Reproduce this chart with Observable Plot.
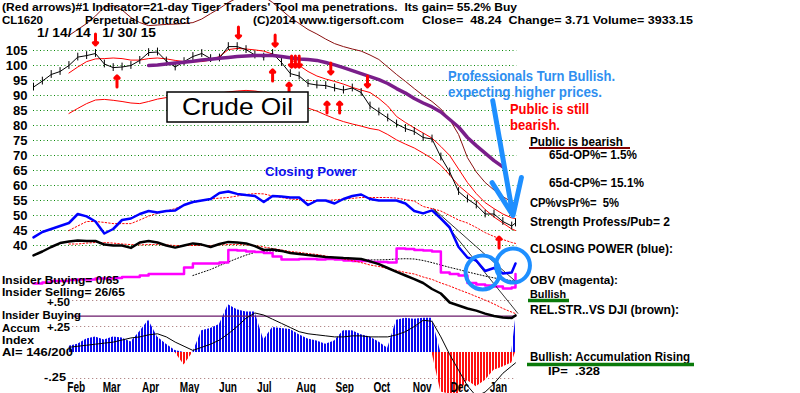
<!DOCTYPE html>
<html><head><meta charset="utf-8">
<script src="https://cdn.jsdelivr.net/npm/d3@7"></script>
<script src="https://cdn.jsdelivr.net/npm/@observablehq/plot@0.6"></script>
<style>
body{margin:0;background:#fff;}
#wrap{position:relative;width:800px;height:393px;overflow:hidden;background:#fff;}
#wrap svg{position:absolute;left:0;top:0;}
</style></head><body><div id="wrap"></div>
<script>
const D = s => new Date(s + "T00:00:00");
// weekly sample dates (Jan 14 2014 .. Jan 27 2015) plus last bar Jan 30 2015
const dates = [...d3.range(55).map(i => d3.timeWeek.offset(D("2014-01-14"), i)), D("2015-01-30")];

const price = [92.8,94.8,97,98,100,102.8,103.3,104,100.5,99.3,
 99.5,100,101.7,104.3,104.5,101.5,99.5,101.3,103,104,
 102.3,102.5,106.3,106.3,105.3,103.5,102.8,104,101,97.3,
 96.5,94,93.5,93.3,92.5,91.8,92.5,91,86.5,84.5,
 82.5,80.5,79,78,76,75.5,69.5,64.5,58,55.5,
 53.5,50.5,50.5,48,46.5,47.5];
const upperBand = [null,null,null,null,110,112,114,116.5,119.5,120,
 118.5,116,114.3,113.3,113.5,113.7,113.8,114,114.3,115.5,
 117.3,119,121,122.5,123.5,124,123,121,118.5,116,
 114,112,110.5,108.8,107.3,106.3,105.5,104.8,103.5,102,
 99.5,97,94.7,92.3,90,88,85.5,82,77,69.3,
 64.5,61,58.5,56.3,54.5,54];
const ma21 = [null,null,null,null,97.5,99.5,101.3,102.2,102.3,102.5,
 102.3,101.8,101.8,102.3,102.5,102.2,101.7,101.3,101.2,101.3,
 101.8,103,105.3,105.7,105.5,105.2,104.8,103.8,103,102.3,
 100,98,96.5,95.5,94.7,93.8,92.7,91.8,91,89,
 86.5,83,81,79.2,77.5,75.8,73,70,65.5,61,
 57.3,54.3,52.3,50.5,49.2,49];
const lowerBand = [null,null,null,null,84,85.7,87.3,88.5,88.7,88.4,
 88,87.5,87.3,88,88.8,89.3,89.5,89.8,90,90.3,
 90.5,90.8,91.2,91.5,91.7,91.5,91,90,89,87.8,
 86.8,85.8,84.8,83.5,82.3,81.3,80.5,79.8,79,78.5,
 77,75.2,73.8,72.5,70.8,69,66.7,63.5,60,57.5,
 55,52,49.5,47.5,45.5,45];
const ma65 = [null,null,null,null,null,null,null,null,null,null,null,null,null,
 100,100.2,100.5,100.8,101.1,101.4,101.8,102.1,102.4,102.7,103,103.2,103.3,103.3,103.3,
 103,102.6,102.2,102,101.7,101,100.2,99.3,98.3,97.3,96.3,95.3,94,92.3,90.8,89,87.5,
 86.2,84.5,82,79.5,76,73.3,70.8,68.3,66.2,null,null];
const closingPower = [42.7,44.5,45.5,46.5,47.5,50.5,49.7,48,44,45.5,
 48.5,49,50.5,51.5,51,51.5,51.7,53.5,54.5,55,
 55.5,57.5,58,57.2,56.8,56.5,54.5,56.5,56.3,56,
 56,53.5,55,55,54,55.5,56.5,57,55.5,55,
 55,55,54,51.5,50.7,51.7,49,46,39.5,36,
 35,31.5,32.5,30.7,31,34];
const closingPowerMA = [null,null,null,null,45,46.5,48,48,47.7,47.3,
 47.3,47.3,48.5,49.8,50.7,51.5,52.3,53.5,54.3,55,
 55.5,55.8,56,56.5,57,57.3,57.2,56.5,56,55.5,
 55.3,55,55,55,55.2,55.5,55.7,56,56,56,
 56,55.8,55.3,54.8,53,52.3,51.5,50,48.5,47.5,
 46,44.3,43,42,41,40.7];
const relStrength = [36.7,38,39.5,40.8,41.3,41.7,41.5,41.5,40.3,40,
 40,39.2,41,41.5,41,40,39.3,40,40.7,40.3,
 39.5,40.5,41.2,41,40.7,39.8,38.5,38.7,38.2,37.5,
 37.2,36.8,36.5,36.2,36,35.8,35.7,35.5,34.7,33.8,
 32.5,31.2,30,28.8,27.5,25.5,24,21,20,19,
 18.3,17.3,16.5,16,15.8,16.7];
const relStrengthMA = [null,null,null,null,40.5,40.5,40.8,41,41,40.8,
 40.5,40.3,40.2,40.3,40.3,40.2,40,40,40,40,
 40,40.2,40.3,40.3,40.2,40,39.5,39,38.5,38,
 37.7,37.3,37,36.5,36,35.5,35,34.3,33.5,33,
 32.3,31.7,31,30.5,29.5,28.7,27.5,26.5,25.3,24.2,
 23,21.8,20.5,19,17.8,17.3];
const obv = [27.3,27.7,28.2,28.2,28.5,28.7,28.7,29,29,29.2,
 29.5,29.5,30,30.5,30.5,30.5,30.5,32.7,34,34,
 34,34.3,38.5,38.3,38,37.8,37.5,36.3,35.3,35.3,
 35.5,35.5,35.3,35.5,35.3,35,34.8,34.8,34.5,34.5,
 34.3,39,38.8,38.5,38.3,38,31,30.5,30,27.5,
 27,26.7,26.3,25.7,26,30.5];
const obvMA = [null,null,null,null,null,null,null,null,null,null,
 null,null,null,null,null,null,null,null,30,31,
 32,33.3,34.5,35.7,36.8,37.7,38.2,38.2,38,37.6,
 37.2,36.8,36.5,36.2,36,35.7,35.5,35.3,35.2,35.2,
 35.3,35.5,35.6,35.5,35,34.3,33.5,32.7,32,31.2,
 30.5,29.8,29.2,28.7,28.3,28];
const accum = [null,null,null,null,0.06,0.08,0.13,0.15,0.12,0.15,
 0.14,0.1,0.2,0.31,0.15,0.08,0.02,-0.12,0.0,0.21,
 0.23,0.27,0.46,0.41,0.39,0.39,0.12,0.24,0.23,0.22,
 0.17,0.13,0.11,0.08,0.11,0.21,0.21,0.17,0.15,0.1,
 0.04,0.31,0.33,0.32,0.33,0.33,-0.38,-0.40,-0.40,-0.27,
 -0.33,-0.27,-0.17,-0.14,-0.1,0.31];
const accumMA = [null,null,null,null,0.05,0.06,0.07,0.08,0.09,0.1,
 0.12,0.14,0.15,0.17,0.18,0.15,0.1,0.06,0.02,0.05,
 0.08,0.12,0.18,0.25,0.33,0.38,0.36,0.32,0.28,0.24,
 0.2,0.18,0.17,0.16,0.15,0.15,0.16,0.16,0.15,0.15,
 0.15,0.17,0.2,0.25,0.31,0.3,0.15,-0.02,-0.17,-0.32,
 -0.42,-0.38,-0.3,-0.2,-0.13,-0.1];

const yTicks = [105,100,95,90,85,80,75,70,65,60,55,50,45,40];
const accumGrid = [0.5, 0.25, -0.25];
const insiderLevel = 0.35;
const monthDates = ["2014-02-01","2014-03-01","2014-04-01","2014-05-01","2014-06-01","2014-07-01","2014-08-01","2014-09-01","2014-10-01","2014-11-01","2014-12-01","2015-01-01"];
const monthLabels = ["Feb","Mar","Apr","May","Jun","Jul","Aug","Sep","Oct","Nov","Dec","Jan"];

// red signal arrows: date, price level, direction
const arrowDates = ["2014-03-04","2014-06-25","2014-07-24","2014-08-06","2014-08-09","2014-08-12","2014-09-06","2014-10-05",
                    "2014-03-21","2014-07-22","2014-08-04","2014-09-03","2014-09-13","2015-01-17"];
const arrowLevels = [108.7,111,108.3,101.3,101.3,101.3,99,94.7, 94.7,96.7,92.3,86,86,41];
const arrowDirs = ["down","down","down","down","down","down","down","down","up","up","up","up","up","up"];

// hand-drawn annotations (in data units)
const circleDates = ["2015-01-04","2015-01-28"];
const circleLevels = [31, 33.3];
const calloutFrom = ["2015-01-12", 88.3];
const calloutTo = ["2015-01-28", 50];
const trendFrom = ["2014-11-26", 52.3];
const trendEnds = [["2015-02-01", 17.3],["2015-02-01", 27.3]];

const rows = dates.map((date, i) => ({date, price: price[i], upperBand: upperBand[i], ma21: ma21[i], lowerBand: lowerBand[i],
  ma65: ma65[i], cp: closingPower[i], cpMA: closingPowerMA[i], rs: relStrength[i], rsMA: relStrengthMA[i],
  obv: obv[i], obvMA: obvMA[i], acc: accum[i], accMA: accumMA[i]}));
const accRows = rows.filter(d => d.acc != null);
const arrows = arrowDates.map((d, i) => ({date: D(d), v: arrowLevels[i], dir: arrowDirs[i]}));
const circles = circleDates.map((d, i) => ({date: D(d), v: circleLevels[i]}));
const callout = [{x1: D(calloutFrom[0]), y1: calloutFrom[1], x2: D(calloutTo[0]), y2: calloutTo[1]}];
const trends = trendEnds.map(e => ({x1: D(trendFrom[0]), y1: trendFrom[1], x2: D(e[0]), y2: e[1]}));
const months = monthDates.map((d, i) => ({date: D(d), label: monthLabels[i]}));

const xDomain = [D("2014-01-14"), D("2015-01-30")];
const xRange = [33, 515];
const font = "'Liberation Sans', Arial, sans-serif";
const gStart = D("2014-01-14"), gEnd = D("2015-01-31"), aStart = D("2014-02-14");

const lower = Plot.plot({
  width: 800, height: 393, margin: 0,
  style: {background: "transparent", fontFamily: font, color: "#000"},
  x: {type: "time", domain: xDomain, range: xRange, axis: null},
  y: {domain: [-0.25, 0.5], range: [378, 300], axis: null},
  marks: [
    Plot.ruleY(accumGrid, {x1: () => aStart, x2: () => gEnd, stroke: "#a06a6a", strokeDasharray: "1,3"}),
    Plot.areaY(accRows, {x: "date", y: d => Math.max(0, d.acc), fill: "url(#stripeBlue)"}),
    Plot.areaY(accRows, {x: "date", y: d => Math.min(0, d.acc), fill: "url(#stripeRed)"}),
    Plot.ruleY([insiderLevel], {x1: () => aStart, x2: () => gEnd, stroke: "#6a1a6a", strokeWidth: 1.2}),
    Plot.line(accRows, {x: "date", y: "accMA", stroke: "#000", strokeWidth: 1}),
    Plot.text(months, {x: "date", text: "label", frameAnchor: "bottom", lineAnchor: "bottom", textAnchor: "start",
      dx: 11, dy: -2, fontSize: 14, fontWeight: "bold", fill: "#000"})
  ]
});
const defs = d3.select(lower).insert("defs", ":first-child");
const pb = defs.append("pattern").attr("id", "stripeBlue").attr("patternUnits", "userSpaceOnUse").attr("width", 3).attr("height", 10);
pb.append("rect").attr("width", 2).attr("height", 10).attr("fill", "#0a0af0");
const pr = defs.append("pattern").attr("id", "stripeRed").attr("patternUnits", "userSpaceOnUse").attr("width", 3).attr("height", 10);
pr.append("rect").attr("width", 2).attr("height", 10).attr("fill", "#ff1010");

const upper = Plot.plot({
  width: 800, height: 393, margin: 0,
  style: {background: "transparent", fontFamily: font, color: "#000"},
  x: {type: "time", domain: xDomain, range: xRange, axis: null},
  y: {domain: [40, 105], range: [245, 50]},
  marks: [
    Plot.ruleY(yTicks, {x1: () => gStart, x2: () => gEnd, stroke: "#0a8a0a", strokeDasharray: "1,2.5"}),
    Plot.axisY(yTicks, {anchor: "left", tickSize: 0, tickPadding: 0, dx: 27, textAnchor: "end", fontSize: 13, fontWeight: "bold", fill: "#000"}),
    Plot.line(rows, {x: "date", y: "upperBand", stroke: "#8a1010", strokeWidth: 1}),
    Plot.line(rows, {x: "date", y: "ma21", stroke: "#ff0000", strokeWidth: 1}),
    Plot.line(rows, {x: "date", y: "lowerBand", stroke: "#ff0000", strokeWidth: 1}),
    Plot.ruleX(rows, {x: "date", y1: d => d.price - 1.3, y2: d => d.price + 1.3, stroke: "#000", strokeWidth: 1}),
    Plot.line(rows, {x: "date", y: "price", stroke: "#000", strokeWidth: 1}),
    Plot.line(rows, {x: "date", y: "ma65", stroke: "#7a1e8a", strokeWidth: 3.5}),
    Plot.vector(arrows, {x: "date", y: "v", rotate: d => d.dir === "down" ? 180 : 0, length: 11, anchor: "middle", stroke: "#ff0000", strokeWidth: 3}),
    Plot.line(rows, {x: "date", y: "obvMA", stroke: "#000", strokeWidth: 1, strokeDasharray: "1,2"}),
    Plot.line(rows, {x: "date", y: "obv", stroke: "#ff00ff", strokeWidth: 2.5, curve: "step-after"}),
    Plot.line(rows, {x: "date", y: "rsMA", stroke: "#ff0000", strokeWidth: 1, strokeDasharray: "1.5,2"}),
    Plot.line(rows, {x: "date", y: "rs", stroke: "#000", strokeWidth: 2.5}),
    Plot.link(trends, {x1: "x1", y1: "y1", x2: "x2", y2: "y2", stroke: "#000", strokeWidth: 0.8}),
    Plot.line(rows, {x: "date", y: "cpMA", stroke: "#ff0000", strokeWidth: 1, strokeDasharray: "1.5,2"}),
    Plot.line(rows, {x: "date", y: "cp", stroke: "#0000ff", strokeWidth: 2.5}),
    Plot.dot(circles, {x: "date", y: "v", r: 17, stroke: "#1e8fff", strokeWidth: 4, fill: "none"}),
    Plot.arrow(callout, {x1: "x1", y1: "y1", x2: "x2", y2: "y2", stroke: "#1e8fff", strokeWidth: 5, headLength: 14, headAngle: 45})
  ]
});

// text annotations: [text, x, baseline, width, size, color]
const notes = [
 ["(Red arrows)#1 Indicator=21-day Tiger Traders' Tool ma penetrations.  Its gain= 55.2% Buy", 2, 11, 515, 11, "#000"],
 ["CL1620", 2, 24, 41, 11, "#000"],
 ["Perpetual Contract", 85, 24, 105, 11, "#000"],
 ["(C)2014 www.tigersoft.com", 253, 24, 151, 11, "#000"],
 ["Close=  48.24  Change= 3.71 Volume= 3933.15", 422, 24, 271, 11, "#000"],
 ["1/ 14/ 14   1/ 30/ 15", 37, 37, 119, 12, "#000"],
 ["Closing Power", 265, 176, 92, 13, "#1010f0"],
 ["Professionals Turn Bullish.", 448, 81, 167, 14, "#2f8ff0"],
 ["expecting higher prices.", 448, 97, 154, 14, "#2f8ff0"],
 ["Public is still", 510, 114, 79, 14, "#ff0000"],
 ["bearish.", 510, 130, 50, 14, "#ff0000"],
 ["Public is bearish", 530, 146, 93, 12, "#000"],
 ["65d-OP%= 1.5%", 549, 159, 88, 12, "#000"],
 ["65d-CP%= 15.1%", 549, 187, 95, 12, "#000"],
 ["CP%vsPr%=  5%", 530, 207, 89, 12, "#000"],
 ["Strength Profess/Pub= 2", 530, 226, 140, 12, "#000"],
 ["CLOSING POWER (blue):", 530, 253, 143, 12, "#000"],
 ["OBV (magenta):", 530, 284, 88, 11.5, "#000"],
 ["Bullish", 530, 298, 36, 11.5, "#000"],
 ["REL.STR..VS DJI (brown):", 530, 314, 149, 12, "#000"],
 ["IP=  .328", 548, 375, 52, 10.5, "#000"],
 ["Bullish: Accumulation Rising", 530, 361, 160, 12, "#000"],
 ["Insider Buying= 0/65", 2, 284, 117, 11.5, "#000"],
 ["+.50", 47, 306, 23, 10, "#000"],
 ["Insider Selling= 26/65", 2, 296, 123, 11.5, "#000"],
 ["Insider Buying", 2, 319, 79, 11.5, "#000"],
 ["Accum", 2, 332, 38, 11.5, "#000"],
 ["+.25", 47, 331, 23, 10, "#000"],
 ["Index", 2, 344, 32, 11.5, "#000"],
 ["AI= 146/200", 2, 356, 71, 11.5, "#000"],
 ["-.25", 44, 381, 22, 11, "#000"]
];
const underlines = [[529, 630, 148, "#800000", 2], [528, 569, 300.5, "#0a7a0a", 3.5], [527, 694, 364.5, "#0a7a0a", 3.5]];

const ov = d3.create("svg").attr("width", 800).attr("height", 393).style("font-family", font);
ov.append("rect").attr("x", 167).attr("y", 92).attr("width", 141).attr("height", 30).attr("fill", "#fff").attr("stroke", "#000").attr("stroke-width", 1.5);
ov.append("text").attr("x", 182).attr("y", 115).attr("font-size", 24).attr("textLength", 111).attr("lengthAdjust", "spacingAndGlyphs").text("Crude Oil");
for (const [t, x, y, w, s, c] of notes) {
  ov.append("text").attr("x", x).attr("y", y).attr("font-size", s).attr("font-weight", "bold").attr("fill", c)
    .attr("textLength", w).attr("lengthAdjust", "spacingAndGlyphs").style("white-space", "pre").text(t);
}
for (const [x1, x2, y, c, w] of underlines) {
  ov.append("line").attr("x1", x1).attr("x2", x2).attr("y1", y).attr("y2", y).attr("stroke", c).attr("stroke-width", w);
}

const wrap = document.getElementById("wrap");
wrap.append(lower, upper, ov.node());
d3.select(lower).selectAll("text").each(function() {
  const w = this.getComputedTextLength();
  this.setAttribute("textLength", w * 0.72);
  this.setAttribute("lengthAdjust", "spacingAndGlyphs");
});
</script></body></html>
